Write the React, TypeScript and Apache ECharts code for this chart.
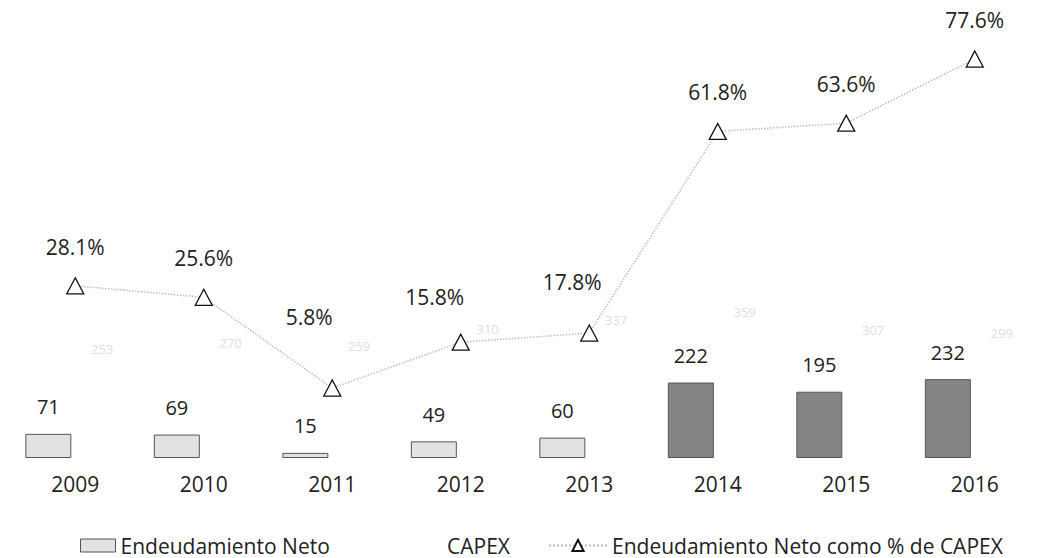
import React, { useEffect, useRef } from "react";
import * as echarts from "echarts";

const years = ["2009", "2010", "2011", "2012", "2013", "2014", "2015", "2016"];
const endeudamientoNeto = [71, 69, 15, 49, 60, 222, 195, 232];
const capex = [253, 270, 259, 310, 337, 359, 307, 299];
const pctCapex = [28.1, 25.6, 5.8, 15.8, 17.8, 61.8, 63.6, 77.6];

const FONT = "Open Sans";

// hand-placed label nudges seen in the reference (index -> [dx, dy])
const pctLabelNudge: Record<number, [number, number]> = {
  2: [-23, -32],
  3: [-26, -6],
  4: [-17, -12],
};

export default function App() {
  const ref = useRef<HTMLDivElement>(null);
  useEffect(() => {
    if (!ref.current) return;
    const chart = echarts.init(ref.current, null, { renderer: "svg" });
    chart.setOption({
      animation: false,
      backgroundColor: "#ffffff",
      textStyle: { fontFamily: FONT },
      grid: { left: 11, right: -24, top: 40, bottom: 100 },
      xAxis: {
        type: "category",
        data: years,
        axisLine: { show: false },
        axisTick: { show: false },
        axisLabel: { color: "#222", fontSize: 21, fontFamily: FONT, margin: 15 },
      },
      yAxis: [
        { type: "value", min: 0, max: 1230, show: false, splitLine: { show: false } },
        { type: "value", min: -9.47, max: 81.75, show: false, splitLine: { show: false } },
      ],
      legend: [
        {
          left: 75,
          top: 530,
          itemWidth: 35,
          itemHeight: 13,
          textStyle: { color: "#222", fontSize: 21, fontFamily: FONT },
          data: [
            {
              name: "Endeudamiento Neto",
              icon: "rect",
              itemStyle: { color: "#e2e2e2", borderColor: "#555", borderWidth: 1 },
            },
          ],
        },
        {
          left: 402,
          top: 530,
          itemWidth: 35,
          itemHeight: 13,
          textStyle: { color: "#222", fontSize: 21, fontFamily: FONT },
          data: [{ name: "CAPEX", icon: "rect", itemStyle: { color: "rgba(0,0,0,0)", borderWidth: 0 } }],
        },
        {
          left: 543,
          top: 530,
          itemWidth: 58,
          itemHeight: 14,
          textStyle: { color: "#222", fontSize: 21, fontFamily: FONT },
          data: [{ name: "Endeudamiento Neto como % de CAPEX" }],
        },
      ],
      series: [
        {
          name: "Endeudamiento Neto",
          type: "bar",
          yAxisIndex: 0,
          data: endeudamientoNeto,
          barWidth: 46,
          barGap: "17%",
          itemStyle: {
            color: (p: any) => (p.value > 100 ? "#858585" : "#e2e2e2"),
            borderColor: "#555",
            borderWidth: 1,
          },
          label: {
            show: true,
            position: "top",
            distance: 17,
            color: "#222",
            fontSize: 20,
            fontFamily: FONT,
          },
        },
        {
          name: "CAPEX",
          type: "bar",
          yAxisIndex: 0,
          data: capex,
          barWidth: 46,
          itemStyle: { color: "rgba(0,0,0,0)" },
          label: {
            show: true,
            position: "top",
            distance: 17,
            color: "#e0e0e0",
            fontSize: 13,
            fontFamily: FONT,
          },
        },
        {
          name: "Endeudamiento Neto como % de CAPEX",
          type: "line",
          yAxisIndex: 1,
          data: pctCapex.map((v, i) =>
            pctLabelNudge[i] ? { value: v, label: { offset: pctLabelNudge[i] } } : v
          ),
          symbol: "triangle",
          symbolSize: [17, 16],
          lineStyle: { type: "dotted", color: "#bdbdbd", width: 1.5 },
          itemStyle: { color: "#ffffff", borderColor: "#111", borderWidth: 1.3 },
          z: 5,
          label: {
            show: true,
            position: "top",
            distance: 20,
            color: "#222",
            fontSize: 21,
            fontFamily: FONT,
            formatter: (p: any) => Number(p.value).toFixed(1) + "%",
          },
        },
      ],
    });
    return () => chart.dispose();
  }, []);
  return (
    <div
      ref={ref}
      style={{ position: "fixed", left: 0, top: 0, width: 1039, height: 558 }}
    />
  );
}
